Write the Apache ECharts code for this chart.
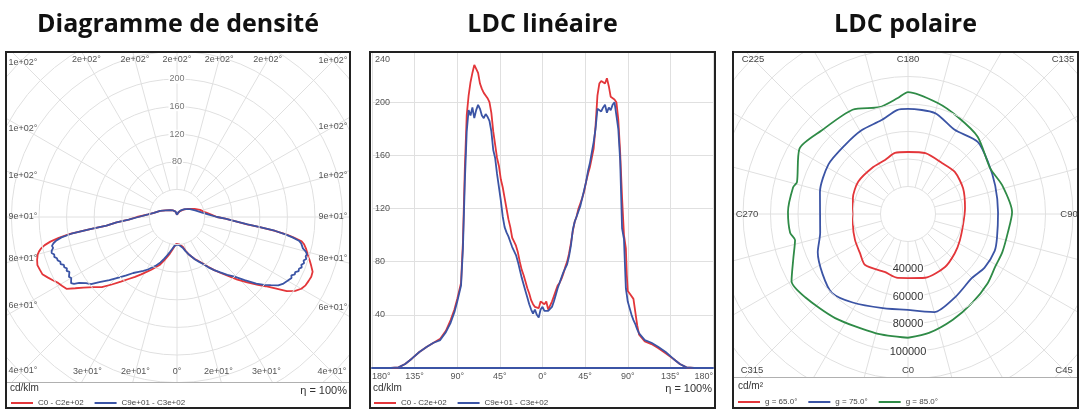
<!DOCTYPE html>
<html><head><meta charset="utf-8">
<script src="https://cdn.jsdelivr.net/npm/echarts@6/dist/echarts.min.js"></script>
<style>
html,body{margin:0;padding:0;background:#fff;width:1081px;height:417px;overflow:hidden}
.p{position:absolute;top:0;height:417px}
</style></head><body>
<div id="p1" class="p" style="left:5px;width:346px"></div>
<div id="p2" class="p" style="left:369px;width:347px"></div>
<div id="p3" class="p" style="left:732px;width:347px"></div>
<script>
// ---------- Panel 1 : Diagramme de densité ----------
const densAnglesRed = [-180,-165,-150,-135,-120,-110,-100,-95,-90,-87,-85,-83,-82,-81,-80,-79,-78,-77,-76,-75,-73,-71,-69,-67,-65,-63,-61,-59,-57,-55,-53,-50,-47,-44,-41,-38,-35,-32,-29,-26,-23,-20,-17,-14,-11,-8,-5,-2,0,2,5,8,11,14,17,20,23,26,29,32,35,38,41,44,47,50,52,54,56,58,60,62,64,66,68,70,72,74,76,78,79,80,81,82,83,84,86,88,90,95,100,107,115,126,140,155,170,180];
const densRed = [3,8,11,14,19,26,34,42,58,70,88,103,127,157,174,187,196,202,206,209,212,214,213,212,207,202,197,194,191,180,170,158,149,136,124,114,106,98,91,85,79,74,67,60,54,48,43,39,37,38,40,41,44,50,56,61,66,71,77,85,94,103,113,126,139,153,163,176,192,202,208,211,212,213,212,207,202,197,193,188,184,172,160,142,121,102,84,70,58,48,41,35,28,20,14,9,5,3];
const densAnglesBlue = [-180,-165,-150,-135,-120,-110,-100,-95,-90,-87,-85,-83,-82,-81,-80,-79,-78,-77,-76,-75,-74,-73,-72,-71,-70,-69,-68,-67,-66,-65,-64,-63,-62,-61,-60,-59,-58,-57,-56,-54,-52,-50,-47,-44,-41,-38,-35,-32,-29,-26,-23,-20,-17,-14,-11,-8,-5,-2,0,2,5,8,11,14,17,20,23,26,29,32,35,38,41,44,47,50,52,54,56,58,60,62,63,64,65,66,67,68,69,70,71,72,73,74,75,76,77,78,79,80,81,82,83,84,86,88,90,95,100,110,121,135,150,165,180];
const densBlue = [3,8,11,14,19,26,34,42,56,70,88,103,127,155,170,178,183,186,185,188,189,186,187,184,184,181,182,178,179,176,178,175,177,179,177,179,181,178,171,163,158,147,134,122,112,103,97,92,87,81,76,70,63,57,51,46,42,40,40,40,41,42,46,51,56,61,67,72,78,86,94,102,111,120,134,150,160,168,177,182,185,188,186,190,189,193,192,195,193,196,194,197,195,196,193,188,186,184,180,170,158,143,121,103,84,70,58,45,37,28,22,16,11,7,3];
const densSpokeAngles = [0,15,30,45,60,75,90,105,120,135,150,165,180,-165,-150,-135,-120,-105,-90,-75,-60,-45,-30,-15];
const densSpokeLabels = ['0°','2e+01°','3e+01°','4e+01°','6e+01°','8e+01°','9e+01°','1e+02°','1e+02°','1e+02°','2e+02°','2e+02°','2e+02°','2e+02°','2e+02°','1e+02°','1e+02°','1e+02°','9e+01°','8e+01°','6e+01°','4e+01°','3e+01°','2e+01°'];
const densRingLabels = [80,120,160,200];
const densSeriesNames = ['C0 - C2e+02','C9e+01 - C3e+02'];

// ---------- Panel 2 : LDC linéaire ----------
const ldcAngles = [-180,-160,-152,-145,-138,-130,-122,-115,-108,-102,-97,-93,-90,-88,-86,-84,-82,-80,-78,-76,-74,-72,-70,-68,-66,-64,-62,-60,-58,-56,-54,-52,-50,-48,-46,-44,-42,-40,-38,-36,-34,-32,-30,-28,-26,-24,-22,-20,-18,-16,-14,-12,-10,-8,-6,-4,-2,0,2,4,6,8,10,12,14,16,18,20,22,24,26,28,30,32,34,36,38,40,42,44,46,48,50,52,54,56,58,60,62,64,66,68,70,72,74,76,78,80,82,84,86,88,89,90,92,94,96,98,100,102,108,115,122,130,138,145,152,160,180];
const ldcRed = [0,0,0.5,3,7,12,16,19,22,28,36,44,52,58,64,95,150,190,205,215,222,228,225,222,214,210,207,206,203,200,192,178,168,158,152,142,136,128,120,112,106,98,95,92,87,80,74,70,65,60,56,51,48,46,45,45,50,50,48,50,44,44,50,54,58,62,64,67,71,76,80,86,94,103,110,114,120,124,128,133,140,146,151,158,165,182,205,214,216,215,214,218,212,204,204,202,200,187,162,128,100,90,70,58,56,55,52,42,32,25,20,18,15,11,7,3,0.5,0,0];
const ldcBlue = [0,0,0.5,3,7,12,16,19,21,27,34,42,50,56,62,90,140,178,194,190,196,188,194,198,195,190,188,191,189,186,178,164,158,146,136,126,114,106,102,99,95,91,88,85,80,74,68,63,58,53,48,44,41,44,40,38,44,46,43,42,43,44,46,50,55,60,64,68,72,75,78,84,92,104,110,114,118,122,128,134,140,148,154,162,170,180,195,196,193,196,198,192,196,194,198,200,190,180,156,105,97,60,55,50,45,40,36,33,29,26,21,19,16,12,7,3,0.5,0,0];
const ldcXTickLabels = ['180°','135°','90°','45°','0°','45°','90°','135°','180°'];
const ldcYTickLabels = [40,80,120,160,200,240];
const ldcSeriesNames = ['C0 - C2e+02','C9e+01 - C3e+02'];

// ---------- Panel 3 : LDC polaire ----------
const polAnglesRed = [0,15,35,50,63,79,96,115,132,146,164,180,192,203,218,237,254,281,296,309,320,338,351,360];
const polRed = [46600,48000,47000,44400,42300,40800,41700,44200,45800,44600,46000,45100,45400,42700,42500,43200,41700,40800,42900,45000,48500,45400,47100,46600];
const polAnglesBlue = [0,15,30,45,55,67,75,91,108,123,136,151,165,180,186,196,209,222,238,256,282,293,305,316,328,345,360];
const polBlue = [69800,73900,69400,65800,68000,68500,67000,65500,66700,69400,73000,70000,76000,76400,76000,70900,69700,68000,68200,66000,65300,71300,75900,79700,75900,70900,69800];
const polAnglesGreen = [0,10,23,36,49,59,68,80,91,107,119,138,153,165,180,185,195,208,226,239,254,257,269,279,283,291,300,309,325,345,360];
const polGreen = [90000,87800,83500,79700,76800,74100,74000,73900,75700,71600,68400,75700,79400,83600,88700,84700,80400,85900,87400,92100,84000,85800,87300,86800,84300,89300,97800,96200,92400,89800,90000];
const polSpokeAngles = [0,45,90,135,180,225,270,315];
const polSpokeLabels = ['C0','C45','C90','C135','C180','C225','C270','C315'];
const polRingLabels = [40000,60000,80000,100000];
const polSeriesNames = ['g = 65.0°','g = 75.0°','g = 85.0°'];

// ---------- styling / helpers ----------
const RED = '#e3363a', BLUE = '#3b54a5', GREEN = '#2f8b47', GRIDC = '#e0e0e0';
const FONT = '"Liberation Sans", Arial, sans-serif';
const TFONT = '"Open Sans", sans-serif';

function titleOpt(text){
  return {text, left:'center', top:7, z:150,
    textStyle:{fontFamily:TFONT, fontWeight:'bold', fontSize:25, color:'#111'}};
}
function frame(w, sepY){
  const els = [{type:'rect', z:100, shape:{x:0,y:0,width:w,height:52}, style:{fill:'#fff'}}];
  if (sepY){
    els.push({type:'rect', z:100, shape:{x:0,y:sepY,width:w,height:417-sepY}, style:{fill:'#fff'}});
    els.push({type:'line', z:105, shape:{x1:1,y1:sepY+0.5,x2:w-1,y2:sepY+0.5}, style:{stroke:'#b0b0b0', lineWidth:1}});
  }
  els.push({type:'rect', z:110, shape:{x:1,y:52,width:w-2,height:356}, style:{fill:'none', stroke:'#222', lineWidth:2}});
  return els;
}
function txt(x, y, text, size, align, color){
  return {type:'text', z:120, x, y, style:{text, fontSize:size, fontFamily:FONT, fill:color||'#333', align:align||'left', verticalAlign:'middle'}};
}
function edgeLabels(cx, cy, rect, angles, labels, size, color){
  return angles.map((a,i)=>{
    const r = a*Math.PI/180, vx = Math.sin(r), vy = Math.cos(r);
    let t = Infinity;
    if (vx > 1e-9) t = Math.min(t, rect.right/vx);
    if (vx < -1e-9) t = Math.min(t, rect.left/vx);
    if (vy > 1e-9) t = Math.min(t, rect.bottom/vy);
    if (vy < -1e-9) t = Math.min(t, rect.top/vy);
    return {type:'text', z:115, x: cx+vx*t, y: cy+vy*t,
      style:{text:labels[i], fontSize:size, fontFamily:FONT, fill:color, align:'center', verticalAlign:'middle'}};
  });
}
function legendOpt(left, top, names){
  return {left, top, z:150, icon:'rect', itemWidth:22, itemHeight:2, itemGap:11, selectedMode:false,
    textStyle:{fontSize:8, color:'#444', fontFamily:FONT}, data:names};
}
function polarGrid(center, inner, outer, startAngle, rmin, rmax, rint, ringLabels, lblStyle){
  return {
    polar:{center, radius:[inner, outer]},
    angleAxis:{polarIndex:0, type:'value', min:0, max:360, interval:15, startAngle, clockwise:false,
      axisLine:{show:false}, axisTick:{show:false}, axisLabel:{show:false},
      splitLine:{show:true, lineStyle:{color:GRIDC, width:1}}},
    radiusAxis:{polarIndex:0, type:'value', min:rmin, max:rmax, interval:rint, z:5,
      axisLine:{show:false}, axisTick:{show:false},
      splitLine:{show:true, lineStyle:{color:GRIDC, width:1}},
      axisLabel:Object.assign({formatter:v=>ringLabels.includes(v)?String(v):'', margin:0,
        align:'center', verticalAlign:'middle', fontFamily:FONT, backgroundColor:'#fff', padding:[0,1]}, lblStyle)}
  };
}
function polarLine(name, angles, vals, color){
  return {type:'line', name, coordinateSystem:'polar', polarIndex:1, showSymbol:false, symbol:'none',
    data: angles.map((a,i)=>[vals[i], a]), lineStyle:{color, width:1.8}, itemStyle:{color}, animation:false};
}

// ---------- Panel 1 ----------
(function(){
  const W = 346, cx = 172, cy = 217, scale = 0.69, rMax = 360;
  const g = polarGrid([cx,cy], 40*scale, rMax*scale, 90, 40, rMax, 40, densRingLabels, {color:'#777', fontSize:9});
  const chart = echarts.init(document.getElementById('p1'), null, {renderer:'canvas'});
  chart.setOption({
    animation:false,
    title: titleOpt('Diagramme de densité'),
    legend: legendOpt(1, 394, densSeriesNames),
    polar:[g.polar, {center:[cx,cy], radius:rMax*scale}],
    angleAxis:[g.angleAxis, {polarIndex:1, type:'value', min:-180, max:180, startAngle:90, clockwise:false, show:false}],
    radiusAxis:[g.radiusAxis, {polarIndex:1, type:'value', min:0, max:rMax, show:false}],
    series:[polarLine(densSeriesNames[0], densAnglesRed, densRed, RED),
            polarLine(densSeriesNames[1], densAnglesBlue, densBlue, BLUE)],
    graphic:{elements: frame(W, 382).concat(
      edgeLabels(cx, cy, {left:-154, right:156, top:-157, bottom:155}, densSpokeAngles, densSpokeLabels, 9, '#555'),
      [txt(5, 388, 'cd/klm', 10), txt(342, 391, 'η = 100%', 11, 'right')])}
  });
})();

// ---------- Panel 2 ----------
(function(){
  const W = 347;
  const chart = echarts.init(document.getElementById('p2'), null, {renderer:'canvas'});
  chart.setOption({
    animation:false,
    title: titleOpt('LDC linéaire'),
    legend: legendOpt(0, 394, ldcSeriesNames),
    grid:{left:1, right:0, top:49, bottom:49, containLabel:false},
    xAxis:{type:'value', min:-180, max:180, interval:45,
      axisLine:{show:true, onZero:false, lineStyle:{color:BLUE, width:2}}, axisTick:{show:false},
      splitLine:{show:true, lineStyle:{color:GRIDC}},
      axisLabel:{formatter:v=>ldcXTickLabels[Math.round((v+180)/45)], color:'#555', fontSize:9, fontFamily:FONT, margin:4,
        alignMinLabel:'left', alignMaxLabel:'right'}},
    yAxis:{type:'value', min:0, max:240, interval:40,
      axisLine:{show:false}, axisTick:{show:false},
      splitLine:{show:true, lineStyle:{color:GRIDC}},
      axisLabel:{inside:true, margin:3, color:'#555', fontSize:9, fontFamily:FONT,
        formatter:v=> v===240 ? '{t|240}' : (ldcYTickLabels.includes(v)?String(v):''),
        rich:{t:{fontSize:9, color:'#555', fontFamily:FONT, padding:[22,0,0,0]}}}},
    series:[
      {type:'line', name:ldcSeriesNames[0], data:ldcAngles.map((a,i)=>[a, ldcRed[i]]), showSymbol:false, symbol:'none', lineStyle:{color:RED,width:1.8}, itemStyle:{color:RED}},
      {type:'line', name:ldcSeriesNames[1], data:ldcAngles.map((a,i)=>[a, ldcBlue[i]]), showSymbol:false, symbol:'none', lineStyle:{color:BLUE,width:1.8}, itemStyle:{color:BLUE}}
    ],
    graphic:{elements: frame(W, 0).concat([txt(4, 388, 'cd/klm', 10), txt(343, 389, 'η = 100%', 11, 'right')])}
  });
})();

// ---------- Panel 3 ----------
(function(){
  const W = 347, cx = 176, cy = 214, scale = 0.001375, rMax = 180000;
  const g = polarGrid([cx,cy], 20000*scale, rMax*scale, 270, 20000, rMax, 20000, polRingLabels, {color:'#333', fontSize:11});
  const chart = echarts.init(document.getElementById('p3'), null, {renderer:'canvas'});
  chart.setOption({
    animation:false,
    title: titleOpt('LDC polaire'),
    legend: legendOpt(1, 393, polSeriesNames),
    polar:[g.polar, {center:[cx,cy], radius:rMax*scale}],
    angleAxis:[g.angleAxis, {polarIndex:1, type:'value', min:0, max:360, startAngle:270, clockwise:false, show:false}],
    radiusAxis:[g.radiusAxis, {polarIndex:1, type:'value', min:0, max:rMax, show:false}],
    series:[polarLine(polSeriesNames[0], polAnglesRed, polRed, RED),
            polarLine(polSeriesNames[1], polAnglesBlue, polBlue, BLUE),
            polarLine(polSeriesNames[2], polAnglesGreen, polGreen, GREEN)].map(s=>Object.assign(s,{smooth:0.25})),
    graphic:{elements: frame(W, 377).concat(
      edgeLabels(cx, cy, {left:-161, right:161, top:-155, bottom:156}, polSpokeAngles, polSpokeLabels, 9.5, '#444'),
      [txt(6, 386, 'cd/m²', 10)])}
  });
})();
</script></body></html>
